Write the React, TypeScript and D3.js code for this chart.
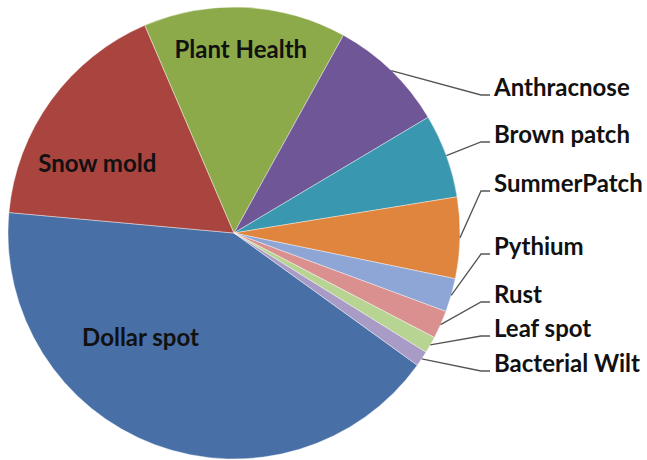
import React from "react";
import * as d3 from "d3";

// slices in drawing order (clockwise from the start angle)
const categories = [
  "Dollar spot",
  "Snow mold",
  "Plant Health",
  "Anthracnose",
  "Brown patch",
  "SummerPatch",
  "Pythium",
  "Rust",
  "Leaf spot",
  "Bacterial Wilt",
];
const shares = [41.5, 17.1, 14.5, 8.4, 6.0, 5.8, 2.4, 2.0, 1.2, 1.1];
const colors = [
  "#4870a6",
  "#a9443f",
  "#8caa4a",
  "#6f5696",
  "#3a97b0",
  "#e0853d",
  "#8ea6d6",
  "#d9908f",
  "#b8d493",
  "#a89bc6",
];

// labels drawn inside their slice
const insideLabels = ["Dollar spot", "Snow mold", "Plant Health"];
// label baselines for the callout labels on the right
const outsideBaselines: Record<string, number> = {
  Anthracnose: 96,
  "Brown patch": 143,
  SummerPatch: 192,
  Pythium: 255,
  Rust: 303,
  "Leaf spot": 337,
  "Bacterial Wilt": 372,
};
// nudges from the centroid for the inside labels (Excel best fit)
const insideNudge: Record<string, [number, number]> = {
  "Dollar spot": [-46, -14],
  "Snow mold": [-27, 19],
  "Plant Health": [0, -40],
};

const width = 647;
const height = 460;
const cx = 234;
const cy = 233;
const radius = 226;

export default function App() {
  const data = categories.map((c, i) => ({ name: c, value: shares[i], color: colors[i] }));
  const start = (125.8 * Math.PI) / 180;
  const pie = d3
    .pie<any>()
    .sort(null)
    .value((d) => d.value)
    .startAngle(start)
    .endAngle(start + 2 * Math.PI);
  const arcs = pie(data);
  const arc = d3.arc<any>().innerRadius(0).outerRadius(radius);
  const labelArc = d3.arc<any>().innerRadius(radius * 0.6).outerRadius(radius * 0.6);

  const font = "Lato, 'Open Sans', sans-serif";

  return (
    <svg
      width={width}
      height={height}
      style={{ position: "absolute", left: 0, top: 0, background: "#fff" }}
    >
      <g transform={`translate(${cx},${cy})`}>
        {arcs.map((a, i) => (
          <path key={i} d={arc(a) as string} fill={a.data.color} stroke="#ffffff" strokeOpacity={0.5} strokeWidth={0.8} />
        ))}
        {arcs
          .filter((a) => insideLabels.includes(a.data.name))
          .map((a, i) => {
            const [x, y] = labelArc.centroid(a);
            const [nx, ny] = insideNudge[a.data.name];
            return (
              <text
                key={i}
                x={x + nx}
                y={y + ny}
                textAnchor="middle"
                fontFamily={font}
                fontWeight="bold"
                fontSize={24}
                fill="#111"
              >
                {a.data.name}
              </text>
            );
          })}
      </g>
      {arcs
        .filter((a) => !insideLabels.includes(a.data.name))
        .map((a, i) => {
          const mid = (a.startAngle + a.endAngle) / 2;
          const sx = cx + radius * Math.sin(mid);
          const sy = cy - radius * Math.cos(mid);
          const base = outsideBaselines[a.data.name];
          const ly = base - 1;
          return (
            <g key={i}>
              <polyline
                points={`${sx},${sy} 481,${ly} 490,${ly}`}
                fill="none"
                stroke="#555"
                strokeWidth={1.3}
              />
              <text x={494} y={base} fontFamily={font} fontWeight="bold" fontSize={24} fill="#111">
                {a.data.name}
              </text>
            </g>
          );
        })}
    </svg>
  );
}
